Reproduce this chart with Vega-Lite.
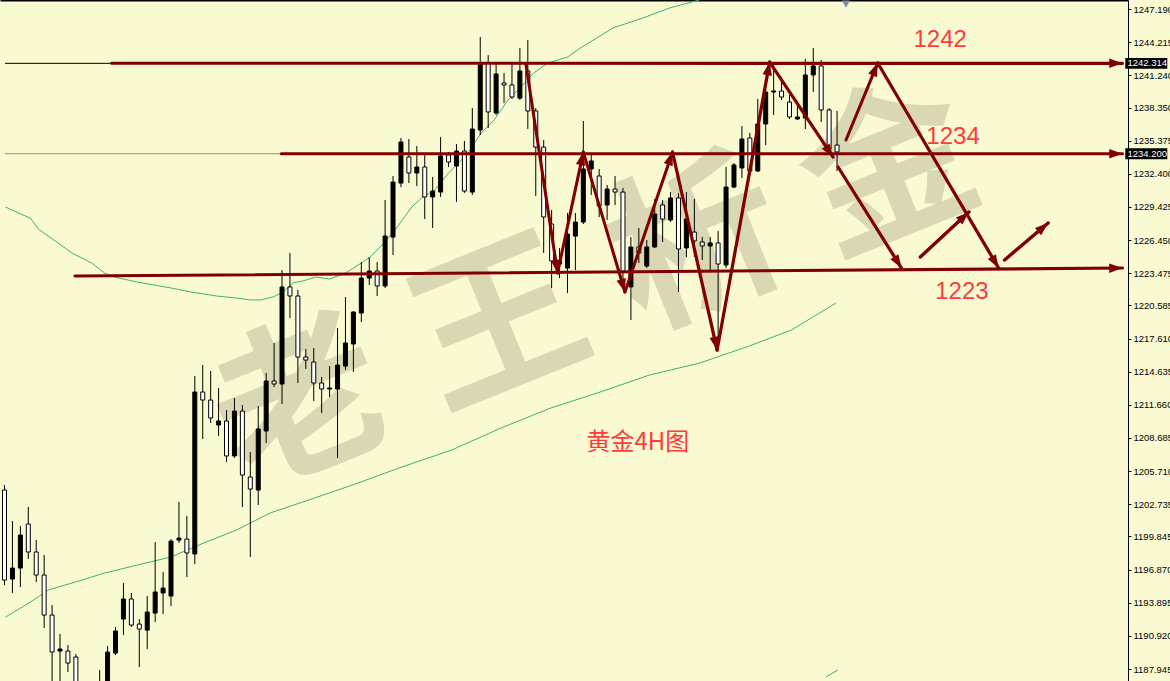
{
  "$schema": "https://vega.github.io/schema/vega-lite/v6.json",
  "width": 1128,
  "height": 681,
  "autosize": {"type": "none"},
  "padding": {"left": 0, "top": 0, "right": 42, "bottom": 0},
  "background": "#FAFAD2",
  "view": {"stroke": null},
  "config": {"font": "Liberation Sans"},
  "resolve": {"axis": {"x": "independent", "y": "independent"}},
  "datasets": {
    "wm": [
      {"ch": "老", "k": 36.6, "p": 1211.2},
      {"ch": "王", "k": 61.6, "p": 1218.4},
      {"ch": "析", "k": 86.6, "p": 1225.6},
      {"ch": "金", "k": 110.75, "p": 1232.3}
    ],
    "ma": [
      {"s": "a", "k": -0.875, "p": 1229.42}, {"s": "a", "k": 0.75, "p": 1228.88}, {"s": "a", "k": 2.25, "p": 1228.43},
      {"s": "a", "k": 3.25, "p": 1227.45}, {"s": "a", "k": 5.75, "p": 1226.19}, {"s": "a", "k": 7.5, "p": 1225.29},
      {"s": "a", "k": 10, "p": 1224.39}, {"s": "a", "k": 11.625, "p": 1223.49}, {"s": "a", "k": 12.875, "p": 1223.13},
      {"s": "a", "k": 15.75, "p": 1222.68}, {"s": "a", "k": 20, "p": 1222.15}, {"s": "a", "k": 22.5, "p": 1221.79},
      {"s": "a", "k": 25.75, "p": 1221.43}, {"s": "a", "k": 28.25, "p": 1221.25}, {"s": "a", "k": 30, "p": 1221.07},
      {"s": "a", "k": 31.25, "p": 1221.07}, {"s": "a", "k": 32.875, "p": 1221.34}, {"s": "a", "k": 34.125, "p": 1221.79},
      {"s": "a", "k": 35.375, "p": 1222.6}, {"s": "a", "k": 36.625, "p": 1222.78}, {"s": "a", "k": 38.25, "p": 1223.13},
      {"s": "a", "k": 40, "p": 1222.95}, {"s": "a", "k": 42, "p": 1223.49}, {"s": "a", "k": 45, "p": 1224.84},
      {"s": "a", "k": 46.625, "p": 1226.01}, {"s": "a", "k": 48.25, "p": 1227.35}, {"s": "a", "k": 50.375, "p": 1229.42},
      {"s": "a", "k": 51.625, "p": 1230.23}, {"s": "a", "k": 53.25, "p": 1230.94}, {"s": "a", "k": 55, "p": 1232.47},
      {"s": "a", "k": 56.25, "p": 1233.37}, {"s": "a", "k": 57.5, "p": 1234.27}, {"s": "a", "k": 58.25, "p": 1235.16},
      {"s": "a", "k": 59.125, "p": 1236.06}, {"s": "a", "k": 60.75, "p": 1237.23}, {"s": "a", "k": 62.5, "p": 1239.02},
      {"s": "a", "k": 64.125, "p": 1240.19}, {"s": "a", "k": 65.75, "p": 1241.45}, {"s": "a", "k": 67.5, "p": 1242.34},
      {"s": "a", "k": 70, "p": 1242.88}, {"s": "a", "k": 71.625, "p": 1243.69}, {"s": "a", "k": 72.875, "p": 1244.23},
      {"s": "a", "k": 75.75, "p": 1245.49}, {"s": "a", "k": 79.5, "p": 1246.38}, {"s": "a", "k": 82.875, "p": 1247.28},
      {"s": "a", "k": 86.625, "p": 1248.0},
      {"s": "b", "k": -0.875, "p": 1192.61}, {"s": "b", "k": 1.25, "p": 1193.51}, {"s": "b", "k": 3.25, "p": 1194.41},
      {"s": "b", "k": 4.5, "p": 1195.04}, {"s": "b", "k": 7.5, "p": 1195.66}, {"s": "b", "k": 11.625, "p": 1196.56},
      {"s": "b", "k": 15.75, "p": 1197.28}, {"s": "b", "k": 20, "p": 1198.0}, {"s": "b", "k": 24.125, "p": 1199.26},
      {"s": "b", "k": 28.25, "p": 1200.42}, {"s": "b", "k": 32.5, "p": 1201.95}, {"s": "b", "k": 36.625, "p": 1202.94},
      {"s": "b", "k": 42.875, "p": 1204.46}, {"s": "b", "k": 49.125, "p": 1206.08}, {"s": "b", "k": 55.375, "p": 1207.6},
      {"s": "b", "k": 61.625, "p": 1209.58}, {"s": "b", "k": 67.875, "p": 1211.37}, {"s": "b", "k": 74.125, "p": 1212.81},
      {"s": "b", "k": 80.375, "p": 1214.34}, {"s": "b", "k": 86.625, "p": 1215.4}, {"s": "b", "k": 92.875, "p": 1216.93},
      {"s": "b", "k": 98.25, "p": 1218.38}, {"s": "b", "k": 103.875, "p": 1220.8},
      {"s": "c", "k": 102.6, "p": 1187.23}, {"s": "c", "k": 104.1, "p": 1187.85}
    ],
    "hl": [
      {"line": "level", "k1": -0.9375, "k2": 12.5, "p": 1242.314},
      {"line": "bid", "k1": -0.9375, "k2": 33.9, "p": 1234.2}
    ],
    "candles": [
      {"i":-1,"o":1204.01,"h":1204.46,"l":1195.48,"c":1195.93},
      {"i":0,"o":1196.02,"h":1201.23,"l":1194.77,"c":1197.01},
      {"i":1,"o":1197.01,"h":1200.78,"l":1195.30,"c":1199.97},
      {"i":2,"o":1200.96,"h":1202.49,"l":1197.82,"c":1198.45},
      {"i":3,"o":1198.45,"h":1199.52,"l":1195.75,"c":1196.38},
      {"i":4,"o":1196.38,"h":1198.18,"l":1191.62,"c":1192.79},
      {"i":5,"o":1192.79,"h":1193.69,"l":1186.06,"c":1189.47},
      {"i":6,"o":1189.56,"h":1191.09,"l":1186.06,"c":1189.74},
      {"i":7,"o":1189.56,"h":1190.10,"l":1187.67,"c":1188.48},
      {"i":8,"o":1189.02,"h":1189.29,"l":1185.16,"c":1186.06},
      {"i":9,"o":1184.71,"h":1186.51,"l":1184.08,"c":1185.88},
      {"i":10,"o":1186.06,"h":1186.60,"l":1184.26,"c":1185.16},
      {"i":11,"o":1186.69,"h":1187.85,"l":1184.71,"c":1185.61},
      {"i":12,"o":1186.06,"h":1190.01,"l":1185.61,"c":1189.47},
      {"i":13,"o":1189.38,"h":1191.71,"l":1189.20,"c":1191.36},
      {"i":14,"o":1192.43,"h":1195.66,"l":1191.00,"c":1194.23},
      {"i":15,"o":1194.23,"h":1194.77,"l":1191.71,"c":1191.89},
      {"i":16,"o":1191.98,"h":1192.43,"l":1188.12,"c":1191.53},
      {"i":17,"o":1191.44,"h":1194.50,"l":1189.74,"c":1193.06},
      {"i":18,"o":1192.97,"h":1199.34,"l":1192.16,"c":1194.86},
      {"i":19,"o":1194.77,"h":1196.65,"l":1192.88,"c":1195.21},
      {"i":20,"o":1194.50,"h":1199.61,"l":1193.60,"c":1199.43},
      {"i":21,"o":1199.52,"h":1202.94,"l":1199.26,"c":1199.70},
      {"i":22,"o":1199.61,"h":1201.68,"l":1196.20,"c":1198.36},
      {"i":23,"o":1198.27,"h":1214.25,"l":1197.37,"c":1212.81},
      {"i":24,"o":1212.81,"h":1215.23,"l":1208.59,"c":1212.09},
      {"i":25,"o":1212.09,"h":1214.70,"l":1210.03,"c":1210.48},
      {"i":26,"o":1209.85,"h":1213.17,"l":1208.86,"c":1210.21},
      {"i":27,"o":1210.21,"h":1211.19,"l":1206.53,"c":1207.07},
      {"i":28,"o":1207.07,"h":1212.27,"l":1206.89,"c":1211.10},
      {"i":29,"o":1211.10,"h":1211.64,"l":1202.49,"c":1205.36},
      {"i":30,"o":1205.18,"h":1207.42,"l":1198.00,"c":1204.10},
      {"i":31,"o":1204.01,"h":1211.55,"l":1202.67,"c":1209.49},
      {"i":32,"o":1209.31,"h":1214.52,"l":1208.23,"c":1213.80},
      {"i":33,"o":1213.80,"h":1217.21,"l":1213.26,"c":1213.53},
      {"i":34,"o":1213.53,"h":1223.76,"l":1211.73,"c":1222.24},
      {"i":35,"o":1222.24,"h":1225.29,"l":1219.45,"c":1221.43},
      {"i":36,"o":1221.43,"h":1221.97,"l":1213.62,"c":1215.95},
      {"i":37,"o":1215.95,"h":1216.67,"l":1214.88,"c":1215.68},
      {"i":38,"o":1215.50,"h":1216.76,"l":1212.00,"c":1213.62},
      {"i":39,"o":1213.62,"h":1214.16,"l":1210.92,"c":1213.08},
      {"i":40,"o":1213.08,"h":1215.14,"l":1212.36,"c":1213.17},
      {"i":41,"o":1213.08,"h":1218.56,"l":1206.89,"c":1215.23},
      {"i":42,"o":1215.14,"h":1221.34,"l":1214.79,"c":1217.21},
      {"i":43,"o":1217.12,"h":1220.08,"l":1214.61,"c":1219.99},
      {"i":44,"o":1219.90,"h":1224.48,"l":1219.09,"c":1223.04},
      {"i":45,"o":1223.04,"h":1224.93,"l":1222.42,"c":1223.67},
      {"i":46,"o":1223.67,"h":1224.48,"l":1221.43,"c":1222.33},
      {"i":47,"o":1222.33,"h":1230.05,"l":1222.15,"c":1226.81},
      {"i":48,"o":1226.72,"h":1232.20,"l":1225.11,"c":1231.66},
      {"i":49,"o":1231.57,"h":1235.61,"l":1231.21,"c":1235.25},
      {"i":50,"o":1233.91,"h":1235.52,"l":1231.57,"c":1232.47},
      {"i":51,"o":1232.47,"h":1234.89,"l":1231.30,"c":1233.01},
      {"i":52,"o":1233.01,"h":1234.27,"l":1228.34,"c":1230.32},
      {"i":53,"o":1230.32,"h":1232.11,"l":1227.53,"c":1230.85},
      {"i":54,"o":1230.76,"h":1235.70,"l":1230.32,"c":1234.00},
      {"i":55,"o":1234.09,"h":1234.36,"l":1233.01,"c":1233.46},
      {"i":56,"o":1233.10,"h":1235.07,"l":1229.87,"c":1234.44},
      {"i":57,"o":1234.44,"h":1235.34,"l":1230.67,"c":1230.85},
      {"i":58,"o":1230.76,"h":1238.30,"l":1230.50,"c":1236.42},
      {"i":59,"o":1236.33,"h":1244.68,"l":1235.88,"c":1242.34},
      {"i":60,"o":1242.34,"h":1243.06,"l":1236.51,"c":1237.95},
      {"i":61,"o":1237.86,"h":1242.34,"l":1237.68,"c":1241.36},
      {"i":62,"o":1240.55,"h":1241.45,"l":1238.75,"c":1240.37},
      {"i":63,"o":1240.37,"h":1242.25,"l":1239.11,"c":1239.29},
      {"i":64,"o":1239.20,"h":1243.69,"l":1239.02,"c":1241.63},
      {"i":65,"o":1241.63,"h":1244.41,"l":1236.42,"c":1238.04},
      {"i":66,"o":1238.04,"h":1238.30,"l":1230.41,"c":1234.80},
      {"i":67,"o":1234.80,"h":1235.43,"l":1225.29,"c":1228.52},
      {"i":68,"o":1227.89,"h":1229.15,"l":1222.15,"c":1224.57},
      {"i":69,"o":1224.57,"h":1225.74,"l":1223.04,"c":1224.30},
      {"i":70,"o":1223.94,"h":1228.88,"l":1221.70,"c":1226.99},
      {"i":71,"o":1226.81,"h":1228.88,"l":1223.76,"c":1228.07},
      {"i":72,"o":1228.07,"h":1237.14,"l":1227.89,"c":1232.83},
      {"i":73,"o":1232.83,"h":1234.09,"l":1230.50,"c":1233.55},
      {"i":74,"o":1232.20,"h":1232.83,"l":1228.52,"c":1229.51},
      {"i":75,"o":1229.60,"h":1231.39,"l":1228.25,"c":1231.03},
      {"i":76,"o":1231.03,"h":1232.20,"l":1229.60,"c":1230.76},
      {"i":77,"o":1230.76,"h":1231.12,"l":1222.42,"c":1223.67},
      {"i":78,"o":1222.24,"h":1226.72,"l":1219.27,"c":1225.83},
      {"i":79,"o":1225.83,"h":1227.53,"l":1224.39,"c":1225.29},
      {"i":80,"o":1224.12,"h":1226.46,"l":1223.94,"c":1225.83},
      {"i":81,"o":1225.83,"h":1230.14,"l":1225.74,"c":1228.79},
      {"i":82,"o":1229.60,"h":1230.05,"l":1226.28,"c":1228.34},
      {"i":83,"o":1228.25,"h":1230.76,"l":1228.07,"c":1230.23},
      {"i":84,"o":1230.23,"h":1230.67,"l":1221.79,"c":1225.65},
      {"i":85,"o":1225.74,"h":1230.76,"l":1224.93,"c":1228.34},
      {"i":86,"o":1227.17,"h":1230.14,"l":1224.93,"c":1226.37},
      {"i":87,"o":1226.28,"h":1226.72,"l":1224.66,"c":1225.92},
      {"i":88,"o":1225.92,"h":1226.72,"l":1223.76,"c":1226.19},
      {"i":89,"o":1226.19,"h":1227.26,"l":1217.03,"c":1224.30},
      {"i":90,"o":1224.21,"h":1233.01,"l":1223.94,"c":1231.21},
      {"i":91,"o":1231.21,"h":1233.37,"l":1231.12,"c":1233.19},
      {"i":92,"o":1232.92,"h":1236.69,"l":1232.02,"c":1235.52},
      {"i":93,"o":1235.61,"h":1236.06,"l":1232.29,"c":1232.65},
      {"i":94,"o":1232.65,"h":1239.11,"l":1232.56,"c":1236.87},
      {"i":95,"o":1236.87,"h":1239.92,"l":1234.98,"c":1239.74},
      {"i":96,"o":1239.74,"h":1242.17,"l":1237.68,"c":1239.83},
      {"i":97,"o":1239.83,"h":1241.09,"l":1239.02,"c":1239.29},
      {"i":98,"o":1238.84,"h":1239.47,"l":1237.32,"c":1237.50},
      {"i":99,"o":1237.32,"h":1238.66,"l":1237.23,"c":1237.50},
      {"i":100,"o":1237.41,"h":1242.70,"l":1236.42,"c":1241.27},
      {"i":101,"o":1241.27,"h":1243.69,"l":1239.74,"c":1242.08},
      {"i":102,"o":1242.08,"h":1242.61,"l":1237.05,"c":1238.13},
      {"i":103,"o":1238.13,"h":1238.30,"l":1234.53,"c":1234.62},
      {"i":104,"o":1234.98,"h":1238.04,"l":1232.65,"c":1234.36}
    ],
    "segs": [
      {"seg": 1, "type": "solid", "k1": 12.5, "p1": 1242.314, "k2": 140.0, "p2": 1242.314},
      {"seg": 2, "type": "solid", "k1": 33.9, "p1": 1234.2, "k2": 140.0, "p2": 1234.2},
      {"seg": 3, "type": "solid", "k1": 7.875, "p1": 1223.22, "k2": 140.0, "p2": 1223.94},
      {"seg": 4, "type": "solid", "k1": 64.75, "p1": 1242.3, "k2": 68.75, "p2": 1223.49},
      {"seg": 5, "type": "solid", "k1": 68.75, "p1": 1223.49, "k2": 72.0, "p2": 1234.35},
      {"seg": 6, "type": "solid", "k1": 72.0, "p1": 1234.35, "k2": 77.25, "p2": 1221.79},
      {"seg": 7, "type": "solid", "k1": 77.25, "p1": 1221.79, "k2": 83.25, "p2": 1234.35},
      {"seg": 8, "type": "taper", "k1": 83.25, "p1": 1234.35, "k2": 88.875, "p2": 1216.58},
      {"seg": 9, "type": "taper", "k1": 88.875, "p1": 1216.58, "k2": 95.5, "p2": 1242.43},
      {"seg": 10, "type": "taper", "k1": 95.5, "p1": 1242.43, "k2": 103.5, "p2": 1233.9},
      {"seg": 11, "type": "solid", "k1": 105.125, "p1": 1235.43, "k2": 109.125, "p2": 1242.34},
      {"seg": 12, "type": "taper", "k1": 109.125, "p1": 1242.34, "k2": 124.375, "p2": 1223.94},
      {"seg": 13, "type": "taper", "k1": 104.125, "p1": 1233.01, "k2": 112.125, "p2": 1223.94},
      {"seg": 14, "type": "medium", "k1": 114.5, "p1": 1224.93, "k2": 120.625, "p2": 1228.97},
      {"seg": 15, "type": "medium", "k1": 125.125, "p1": 1224.66, "k2": 130.625, "p2": 1227.98}
    ],
    "notes": [
      {"t": "1242", "k": 117.0, "p": 1244.41},
      {"t": "1234", "k": 118.625, "p": 1235.7},
      {"t": "1223", "k": 119.75, "p": 1221.79}
    ],
    "cur": [
      {"t": "1242.314", "p": 1242.314},
      {"t": "1234.200", "p": 1234.2}
    ]
  },
  "layer": [
    {
      "data": {"name": "wm"},
      "mark": {"type": "text", "font": "Noto Sans CJK SC", "fontWeight": "bold", "fontSize": 170, "angle": 338, "color": "#DAD8B4", "baseline": "middle", "align": "center"},
      "encoding": {
        "x": {"field": "k", "type": "quantitative", "scale": {"domain": [-0.9375, 140.0625], "nice": false, "zero": false},
              "axis": {"orient": "top", "labels": false, "ticks": false, "grid": false, "domainColor": "#000000", "domainWidth": 2, "title": null}},
        "y": {"field": "p", "type": "quantitative", "scale": {"domain": [1186.87, 1248.0], "nice": false, "zero": false},
              "axis": {"orient": "right", "values": [1187.945, 1190.92, 1193.895, 1196.87, 1199.845, 1202.735, 1205.71, 1208.685, 1211.66, 1214.635, 1217.61, 1220.585, 1223.475, 1226.45, 1229.425, 1232.4, 1235.375, 1238.35, 1241.24, 1244.215, 1247.19],
                       "format": ".3f", "grid": false, "domainColor": "#000000", "domainWidth": 1, "tickColor": "#000000", "tickSize": 3, "labelFont": "Liberation Sans", "labelFontSize": 9.5, "labelColor": "#000000", "labelPadding": 2, "labelOverlap": false, "labelFlush": false, "title": null}},
        "text": {"field": "ch"}
      }
    },
    {
      "data": {"name": "ma"},
      "mark": {"type": "line", "color": "#3CB371", "strokeWidth": 1},
      "encoding": {
        "x": {"field": "k", "type": "quantitative", "axis": null},
        "y": {"field": "p", "type": "quantitative", "axis": null},
        "detail": {"field": "s"}
      }
    },
    {
      "data": {"name": "hl"},
      "mark": {"type": "rule", "strokeWidth": 1},
      "encoding": {
        "x": {"field": "k1", "type": "quantitative", "axis": null},
        "x2": {"field": "k2"},
        "y": {"field": "p", "type": "quantitative", "axis": null},
        "color": {"field": "line", "type": "nominal", "scale": {"domain": ["level", "bid"], "range": ["#000000", "#8C8C8C"]}, "legend": null}
      }
    },
    {
      "data": {"name": "candles"},
      "mark": {"type": "rule", "color": "#000000", "strokeWidth": 1},
      "encoding": {
        "x": {"field": "i", "type": "quantitative", "axis": null},
        "y": {"field": "l", "type": "quantitative", "axis": null},
        "y2": {"field": "h"}
      }
    },
    {
      "data": {"name": "candles"},
      "mark": {"type": "bar", "width": 4, "stroke": "#000000", "strokeWidth": 1},
      "encoding": {
        "x": {"field": "i", "type": "quantitative", "axis": null},
        "y": {"field": "o", "type": "quantitative", "axis": null},
        "y2": {"field": "c"},
        "fill": {"condition": {"test": "datum.c > datum.o", "value": "#000000"}, "value": "#FFFFFF"}
      }
    },
    {
      "data": {"name": "segs"},
      "transform": [
        {"fold": ["k1", "k2"], "as": ["end", "k"]},
        {"calculate": "datum.end === 'k1' ? datum.p1 : datum.p2", "as": "p"},
        {"calculate": "datum.type + '-' + datum.end", "as": "w"}
      ],
      "mark": {"type": "trail", "color": "#800000"},
      "encoding": {
        "x": {"field": "k", "type": "quantitative", "axis": null},
        "y": {"field": "p", "type": "quantitative", "axis": null},
        "detail": {"field": "seg", "type": "nominal"},
        "order": {"field": "end", "type": "ordinal"},
        "size": {"field": "w", "type": "ordinal", "legend": null,
                 "scale": {"domain": ["solid-k1", "solid-k2", "taper-k1", "taper-k2", "medium-k1", "medium-k2"], "range": [3, 3.5, 0.8, 4, 2.2, 2.8]}}
      }
    },
    {
      "data": {"name": "segs"},
      "transform": [
        {"calculate": "(atan2((datum.k2 - datum.k1) * 8, (datum.p2 - datum.p1) * 11.14) * 180 / PI + 360) % 360", "as": "ang"}
      ],
      "mark": {"type": "point", "shape": "M0,0L0.5,1.4L-0.5,1.4Z", "filled": true, "opacity": 1, "color": "#800000", "size": 360},
      "encoding": {
        "x": {"field": "k2", "type": "quantitative", "axis": null},
        "y": {"field": "p2", "type": "quantitative", "axis": null},
        "angle": {"field": "ang", "type": "quantitative", "scale": null}
      }
    },
    {
      "data": {"name": "notes"},
      "mark": {"type": "text", "font": "Liberation Sans", "fontSize": 24, "color": "#FF3B3B", "align": "center", "baseline": "middle"},
      "encoding": {
        "x": {"field": "k", "type": "quantitative", "axis": null},
        "y": {"field": "p", "type": "quantitative", "axis": null},
        "text": {"field": "t"}
      }
    },
    {
      "data": {"values": [{"t": "黄金4H图", "k": 78.875, "p": 1208.23}]},
      "mark": {"type": "text", "font": "Noto Sans CJK SC", "fontSize": 24, "color": "#FF3B3B", "align": "center", "baseline": "middle"},
      "encoding": {
        "x": {"field": "k", "type": "quantitative", "axis": null},
        "y": {"field": "p", "type": "quantitative", "axis": null},
        "text": {"field": "t"}
      }
    },
    {
      "data": {"name": "cur"},
      "mark": {"type": "point", "shape": "M-1,-0.26L1,-0.26L1,0.26L-1,0.26Z", "filled": true, "opacity": 1, "color": "#000000", "size": 1764},
      "encoding": {
        "x": {"datum": 143.0, "type": "quantitative", "axis": null},
        "y": {"field": "p", "type": "quantitative", "axis": null}
      }
    },
    {
      "data": {"name": "cur"},
      "mark": {"type": "text", "font": "Liberation Sans", "fontSize": 9.5, "color": "#FFFFFF", "align": "left", "baseline": "middle"},
      "encoding": {
        "x": {"datum": 140.625, "type": "quantitative", "axis": null},
        "y": {"field": "p", "type": "quantitative", "axis": null},
        "text": {"field": "t"}
      }
    },
    {
      "data": {"values": [{"k": 105.125, "p": 1247.64}]},
      "mark": {"type": "point", "shape": "triangle-down", "filled": true, "opacity": 1, "color": "#7F8FA6", "size": 70},
      "encoding": {
        "x": {"field": "k", "type": "quantitative", "axis": null},
        "y": {"field": "p", "type": "quantitative", "axis": null}
      }
    }
  ]
}
